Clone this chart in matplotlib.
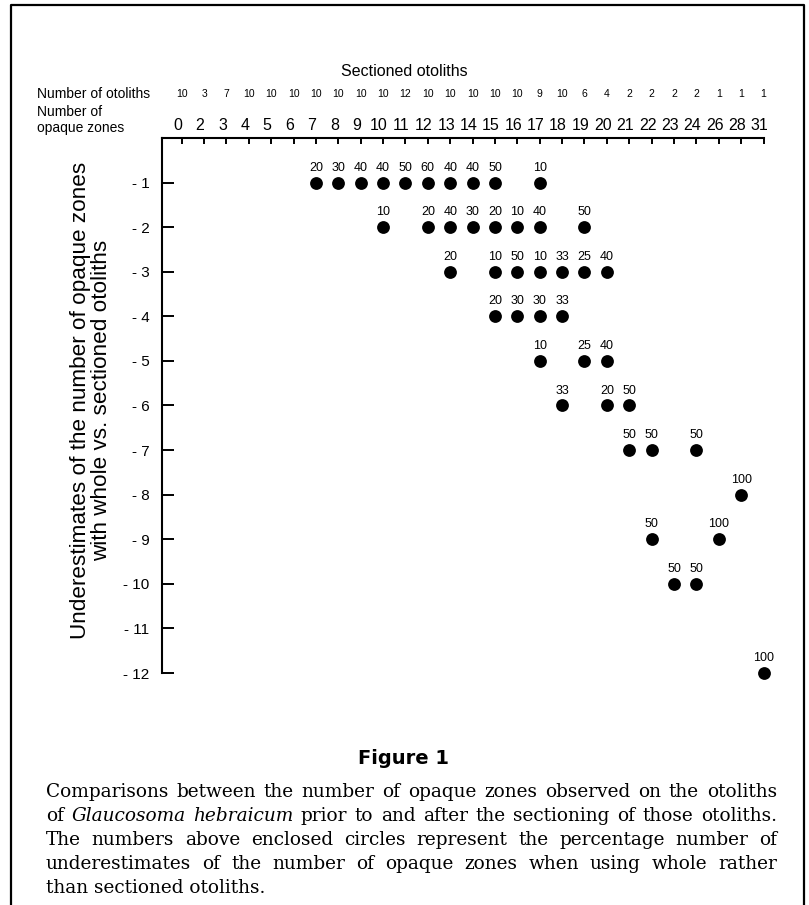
import matplotlib.pyplot as plt
from matplotlib.lines import Line2D

# Figure size in pixels (dpi 100)
W, H = 809, 905

# Sectioned-otolith zone counts (top axis) and sample size for each
zones = ["0", "2", "3", "4", "5", "6", "7", "8", "9", "10", "11", "12", "13",
         "14", "15", "16", "17", "18", "19", "20", "21", "22", "23", "24",
         "26", "28", "31"]
n_otoliths = [10, 3, 7, 10, 10, 10, 10, 10, 10, 10, 12, 10, 10, 10, 10, 10,
              9, 10, 6, 4, 2, 2, 2, 2, 1, 1, 1]

under_ticks = list(range(-1, -13, -1))

# Each circle: zones on sectioned otolith, underestimate, % of otoliths
dot_zone = [7, 8, 9, 10, 11, 12, 13, 14, 15, 17,
            10, 12, 13, 14, 15, 16, 17, 19,
            13, 15, 16, 17, 18, 19, 20,
            15, 16, 17, 18,
            17, 19, 20,
            18, 20, 21,
            21, 22, 24,
            28,
            22, 26,
            23, 24,
            31]
dot_under = [-1] * 10 + [-2] * 8 + [-3] * 7 + [-4] * 4 + [-5] * 3 + [-6] * 3 \
    + [-7] * 3 + [-8] + [-9] * 2 + [-10] * 2 + [-12]
dot_pct = [20, 30, 40, 40, 50, 60, 40, 40, 50, 10,
           10, 20, 40, 30, 20, 10, 40, 50,
           20, 10, 50, 10, 33, 25, 40,
           20, 30, 30, 33,
           10, 25, 40,
           33, 20, 50,
           50, 50, 50,
           100,
           50, 100,
           50, 50,
           100]

caption_lines = [
    "Comparisons between the number of opaque zones observed on the otoliths",
    "of Glaucosoma hebraicum prior to and after the sectioning of those otoliths.",
    "The numbers above enclosed circles represent the percentage number of",
    "underestimates of the number of opaque zones when using whole rather",
    "than sectioned otoliths.",
]
italic_words = {"Glaucosoma", "hebraicum"}


def fx(px):
    return px / W


def fy(py):
    return 1 - py / H


plt.rcParams['font.family'] = ['Liberation Sans', 'DejaVu Sans']

fig = plt.figure(figsize=(W / 100, H / 100), dpi=100)

# plot area: top axis at y=138 px, left axis at x=162 px
ax_left, ax_right, ax_top, ax_bottom = 162, 763.5, 138, 673
ax = fig.add_axes([fx(ax_left), fy(ax_bottom),
                   (ax_right - ax_left) / W, (ax_bottom - ax_top) / H])

xpos = [zones.index(str(z)) for z in dot_zone]
ax.scatter(xpos, dot_under, s=85, color="black", zorder=3, clip_on=False,
           linewidths=0)
for x, y, p in zip(xpos, dot_under, dot_pct):
    ax.annotate(str(p), (x, y), xytext=(0, 15), textcoords="offset pixels",
                ha="center", va="center", fontsize=9)

ax.set_xlim(-0.88, len(zones) - 1)
ax.set_ylim(-12, 0)

for side in ["bottom", "right"]:
    ax.spines[side].set_visible(False)
for side in ["top", "left"]:
    ax.spines[side].set_linewidth(1.5)

ax.xaxis.set_ticks_position("top")
ax.set_xticks(range(len(zones)))
ax.tick_params(axis="x", direction="in", length=4.5, width=1.4,
               labeltop=False, labelbottom=False)
ax.set_yticks(under_ticks, labels=[f"- {abs(v)}" for v in under_ticks])
ax.tick_params(axis="y", direction="in", length=8.6, width=1.4, pad=9,
               labelsize=11)

# zone labels and sample sizes above the top axis
for i, (z, n) in enumerate(zip(zones, n_otoliths)):
    ax.annotate(z, (i, 1), xycoords=("data", "axes fraction"),
                xytext=(-4, 13), textcoords="offset pixels",
                ha="center", va="center", fontsize=11.5)
    ax.annotate(str(n), (i, 1), xycoords=("data", "axes fraction"),
                xytext=(0, 44), textcoords="offset pixels",
                ha="center", va="center", fontsize=7.5)

fig.text(fx(404), fy(72), "Sectioned otoliths", ha="center", va="center",
         fontsize=11.5)
fig.text(fx(37), fy(94), "Number of otoliths", ha="left", va="center",
         fontsize=10)
fig.text(fx(37), fy(120), "Number of\nopaque zones", ha="left", va="center",
         fontsize=10, linespacing=1.15)
fig.text(fx(91), fy(400),
         "Underestimates of the number of opaque zones\n"
         "with whole vs. sectioned otoliths",
         rotation=90, ha="center", va="center", fontsize=16.2,
         linespacing=1.0, multialignment="center")

# frame around the figure (open at the bottom)
fig.add_artist(Line2D([fx(11), fx(11), fx(804), fx(804)],
                      [0, fy(5), fy(5), 0], color="black", lw=1.6))

fig.text(fx(404), fy(758), "Figure 1", ha="center", va="center",
         fontsize=14, fontweight="bold", family="DejaVu Sans")

# justified serif caption
renderer = fig.canvas.get_renderer()
cap_left, cap_right = 46, 777
cap_y = [792, 816, 840, 864, 888]
cap_size = 13.3
for k, (line, y) in enumerate(zip(caption_lines, cap_y)):
    if k == len(caption_lines) - 1:
        fig.text(fx(cap_left), fy(y), line, ha="left", va="center",
                 fontsize=cap_size, family="DejaVu Serif")
        continue
    words = line.split()
    texts = []
    for w in words:
        t = fig.text(0, fy(y), w, ha="left", va="center", fontsize=cap_size,
                     family="DejaVu Serif",
                     style="italic" if w in italic_words else "normal")
        texts.append(t)
    widths = [t.get_window_extent(renderer).width for t in texts]
    gap = (cap_right - cap_left - sum(widths)) / (len(words) - 1)
    x = cap_left
    for t, wd in zip(texts, widths):
        t.set_x(fx(x))
        x += wd + gap

fig.savefig("out.png", dpi=100)
